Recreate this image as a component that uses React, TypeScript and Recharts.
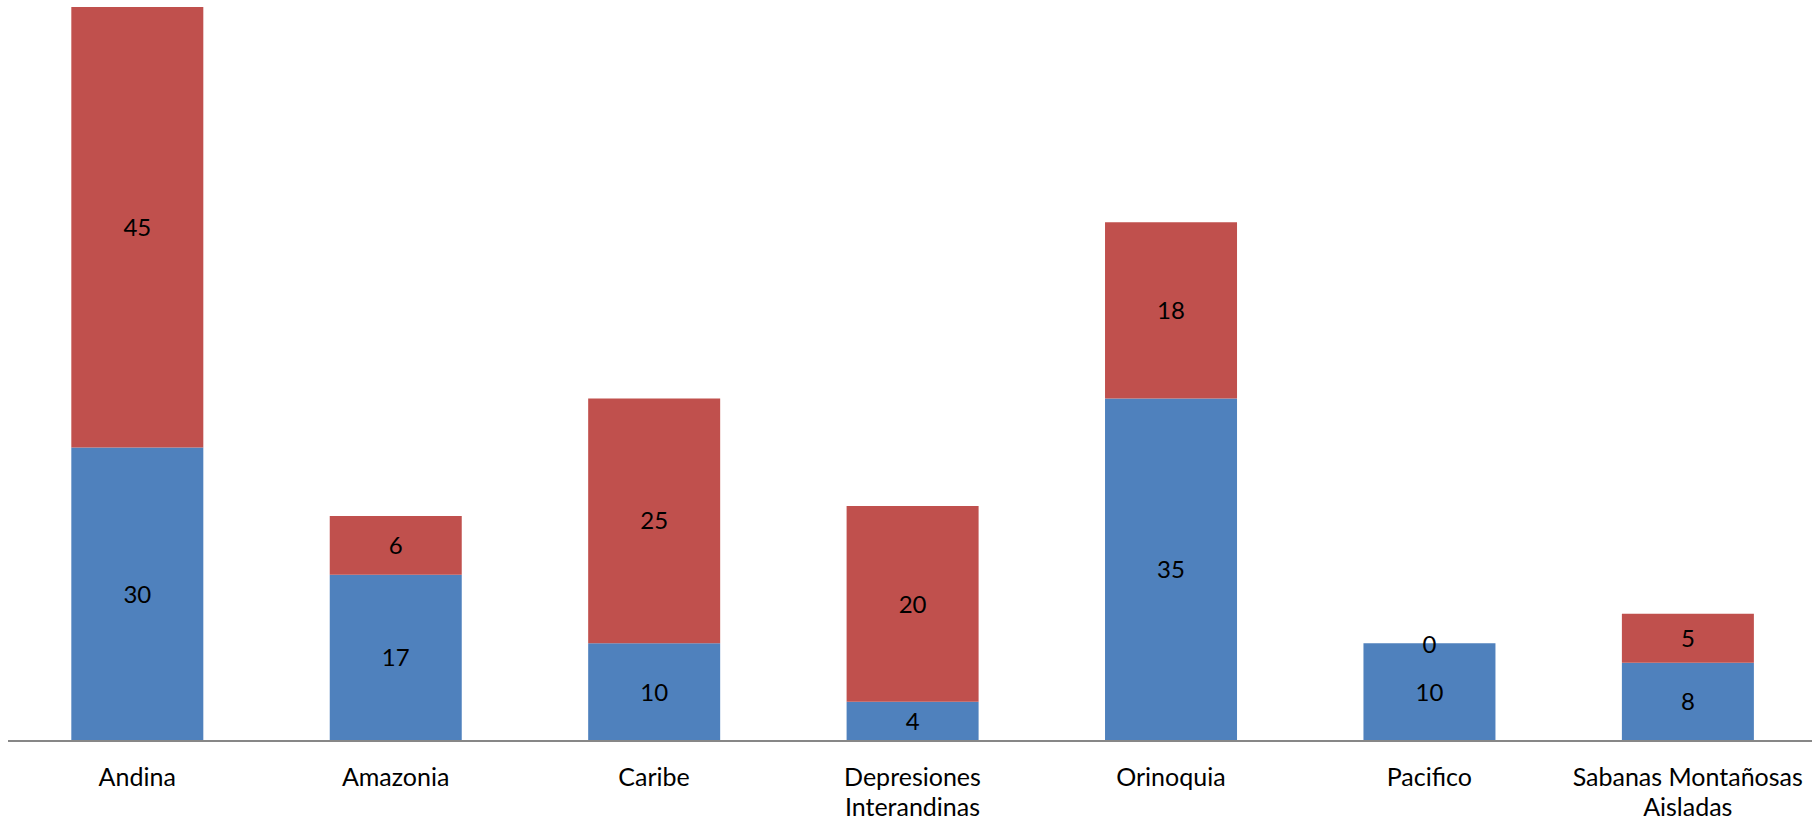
import { BarChart, Bar, XAxis, YAxis, LabelList } from "recharts";

// regions (tick labels use \n for the second line)
const categories = [
  "Andina",
  "Amazonia",
  "Caribe",
  "Depresiones\nInterandinas",
  "Orinoquia",
  "Pacifico",
  "Sabanas Montañosas\nAisladas",
];
const blueValues = [30, 17, 10, 4, 35, 10, 8];
const redValues  = [45, 6, 25, 20, 18, 0, 5];

const BLUE = "#4F81BD";
const RED  = "#C0504D";
const FONT = "Lato, 'Open Sans', sans-serif";
const LABEL_SIZE = 24;

const data = categories.map((name, i) => ({
  name,
  a: blueValues[i],
  b: redValues[i],
}));

function Tick(props: any) {
  const { x, y, payload } = props;
  const lines = String(payload.value).split("\n");
  return (
    <text x={x} y={y + 45} textAnchor="middle" fill="#000" fontSize={25} fontFamily={FONT}>
      {lines.map((l, i) => (
        <tspan key={i} x={x} dy={i === 0 ? 0 : 30}>{l}</tspan>
      ))}
    </text>
  );
}

// recharts drops labels for zero-height segments, so the red "0" is drawn
// at the top edge of the blue segment underneath it
function ZeroRedLabel(props: any) {
  const { x, y, width, index } = props;
  if (redValues[index] !== 0) return null;
  return (
    <text x={x + width / 2} y={y} textAnchor="middle" dominantBaseline="central"
      fill="#000" fontSize={LABEL_SIZE} fontFamily={FONT}>
      {redValues[index]}
    </text>
  );
}

export default function App() {
  return (
    <div style={{ position: "absolute", left: 0, top: 0, background: "#fff", overflow: "hidden", width: 1812, height: 821 }}>
      <BarChart
        width={1812}
        height={821}
        data={data}
        margin={{ top: 7, right: -5, left: 8, bottom: 0 }}
        barCategoryGap="24.5%"
        style={{ fontFamily: FONT }}
      >
        <XAxis
          dataKey="name"
          height={80}
          interval={0}
          tickLine={false}
          tickSize={0}
          tickMargin={0}
          axisLine={{ stroke: "#878787", strokeWidth: 2 }}
          tick={<Tick />}
        />
        <YAxis hide domain={[0, 75]} />
        <Bar dataKey="a" stackId="s" fill={BLUE} isAnimationActive={false}>
          <LabelList dataKey="a" position="center" fill="#000" fontSize={LABEL_SIZE} fontFamily={FONT} />
          <LabelList dataKey="a" content={<ZeroRedLabel />} />
        </Bar>
        <Bar dataKey="b" stackId="s" fill={RED} isAnimationActive={false}>
          <LabelList dataKey="b" position="center" fill="#000" fontSize={LABEL_SIZE} fontFamily={FONT} />
        </Bar>
      </BarChart>
    </div>
  );
}
